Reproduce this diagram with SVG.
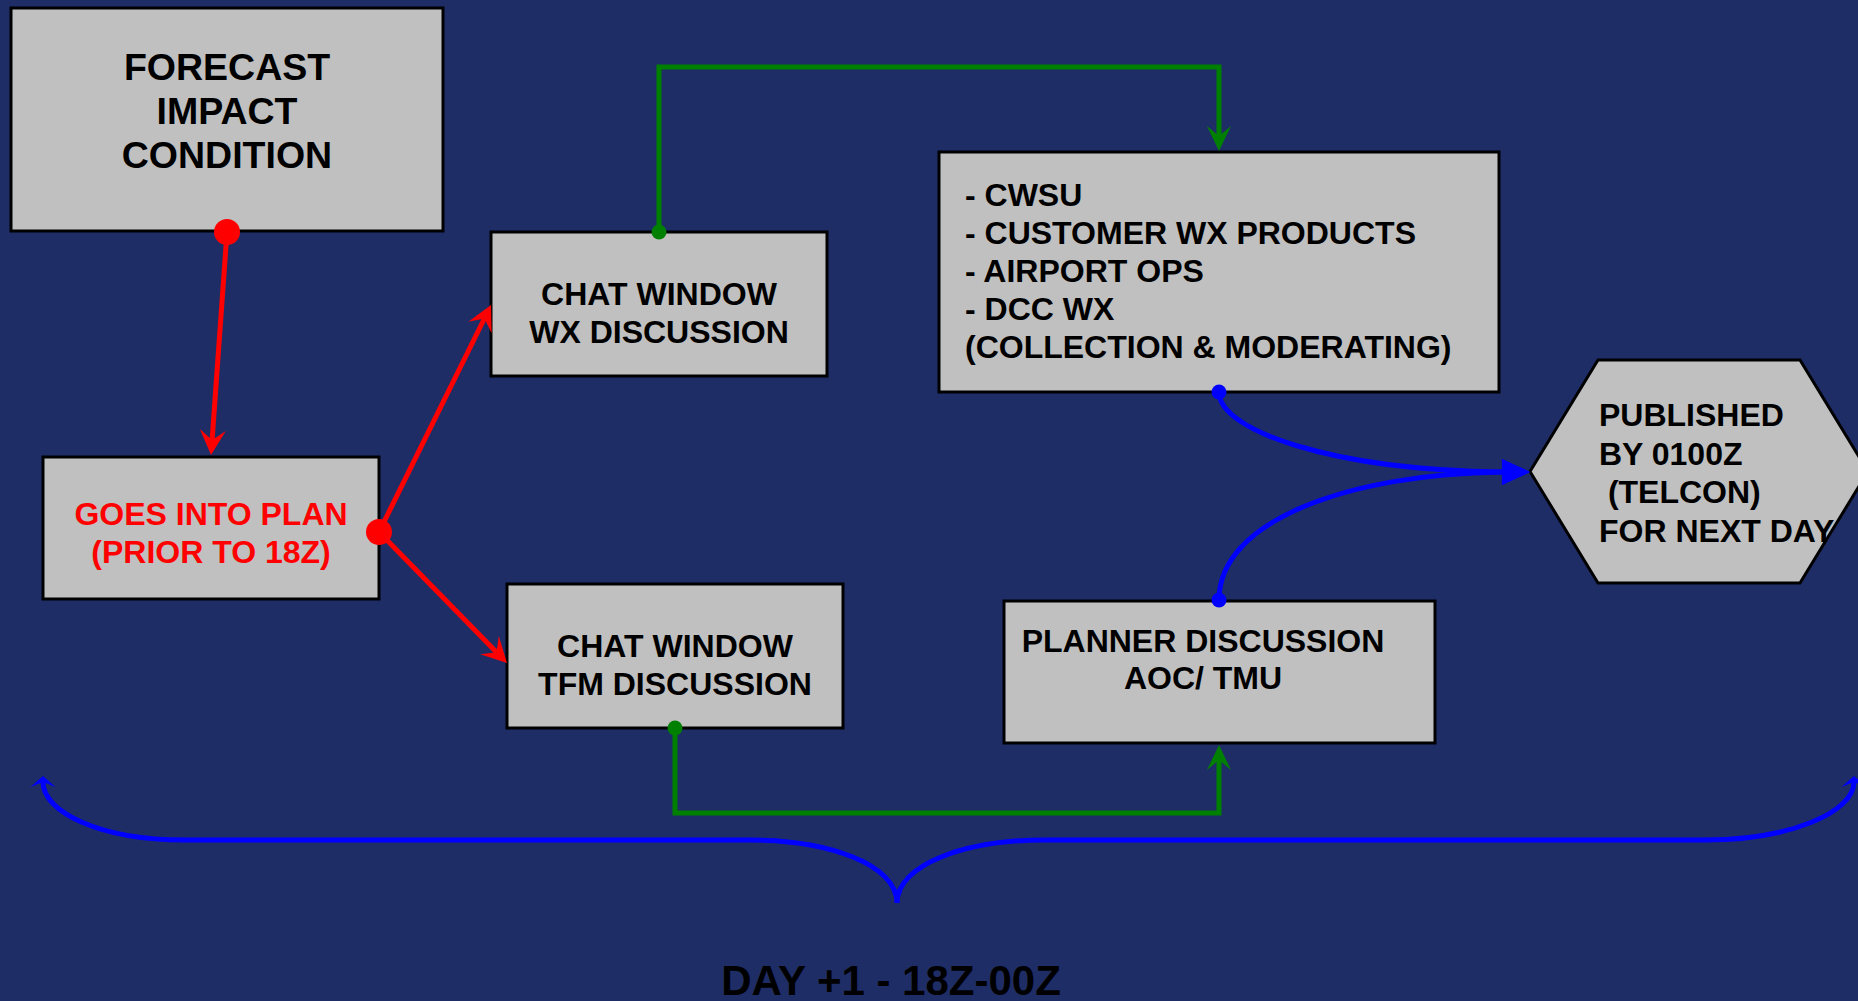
<svg xmlns="http://www.w3.org/2000/svg" width="1858" height="1001" viewBox="0 0 1858 1001">
<style>
.box{fill:#c0c0c0;stroke:#000;stroke-width:3}
.t{font-family:"Liberation Sans",Arial,sans-serif;font-weight:bold;font-size:32px;fill:#000}
.c{text-anchor:middle}
.red{stroke:#ff0000;stroke-width:5;fill:none}
.green{stroke:#008000;stroke-width:5;fill:none}
.blue{stroke:#0000ff;stroke-width:5;fill:none}
</style>
<defs>
<marker id="ar" markerUnits="userSpaceOnUse" markerWidth="30" markerHeight="30" viewBox="0 -15 30 30" refX="10" refY="0" orient="auto" overflow="visible">
<path d="M0,-13 L25,0 L0,13 L10,0 Z" fill="#ff0000"/>
</marker>
<marker id="ag" markerUnits="userSpaceOnUse" markerWidth="30" markerHeight="30" viewBox="0 -15 30 30" refX="10" refY="0" orient="auto" overflow="visible">
<path d="M0,-12 L25,0 L0,12 L10,0 Z" fill="#008000"/>
</marker>
<marker id="ab" markerUnits="userSpaceOnUse" markerWidth="30" markerHeight="30" viewBox="0 -15 30 30" refX="0" refY="0" orient="auto" overflow="visible">
<path d="M0,-13 L28,0 L0,13 Z" fill="#0000ff"/>
</marker>
<marker id="ab2" markerUnits="userSpaceOnUse" markerWidth="20" markerHeight="30" viewBox="0 -15 20 30" refX="5" refY="0" orient="auto" overflow="visible">
<path d="M0,-12.5 L11,0 L0,12.5 L5,0 Z" fill="#0000ff"/>
</marker>
</defs>
<rect x="0" y="0" width="1858" height="1001" fill="#1f2d66"/>

<g id="forecast">
<rect class="box" x="11" y="8" width="432" height="223"/>
<text class="t c" style="font-size:37.5px" x="227" y="80">FORECAST</text>
<text class="t c" style="font-size:37.5px" x="227" y="124">IMPACT</text>
<text class="t c" style="font-size:37.5px" x="227" y="168">CONDITION</text>
</g>

<g id="plan">
<rect class="box" x="43" y="457" width="336" height="142"/>
<text class="t c" x="211" y="525" style="fill:#ff0000">GOES INTO PLAN</text>
<text class="t c" x="211" y="563" style="fill:#ff0000">(PRIOR TO 18Z)</text>
</g>

<g id="chat-wx">
<rect class="box" x="491" y="232" width="336" height="144"/>
<text class="t c" x="659" y="305">CHAT WINDOW</text>
<text class="t c" x="659" y="343">WX DISCUSSION</text>
</g>

<g id="chat-tfm">
<rect class="box" x="507" y="584" width="336" height="144"/>
<text class="t c" x="675" y="657">CHAT WINDOW</text>
<text class="t c" x="675" y="695">TFM DISCUSSION</text>
</g>

<g id="sources">
<rect class="box" x="939" y="152" width="560" height="240"/>
<text class="t" x="965" y="206">- CWSU</text>
<text class="t" x="965" y="244">- CUSTOMER WX PRODUCTS</text>
<text class="t" x="965" y="282">- AIRPORT OPS</text>
<text class="t" x="965" y="320">- DCC WX</text>
<text class="t" x="965" y="358">(COLLECTION &amp; MODERATING)</text>
</g>

<g id="planner">
<rect class="box" x="1004" y="601" width="431" height="142"/>
<text class="t c" x="1203" y="652">PLANNER DISCUSSION</text>
<text class="t c" x="1203" y="689">AOC/ TMU</text>
</g>

<g id="published">
<polygon class="box" points="1530,471.5 1598,360 1800,360 1868,471.5 1800,583 1598,583"/>
<text class="t" x="1599" y="426">PUBLISHED</text>
<text class="t" x="1599" y="465">BY 0100Z</text>
<text class="t" x="1599" y="503" xml:space="preserve"> (TELCON)</text>
<text class="t" x="1599" y="542">FOR NEXT DAY</text>
</g>

<g id="connectors">
<path class="red" d="M227,232 L212.1,440" marker-end="url(#ar)"/>
<path class="red" d="M379,532 L484.4,318.5" marker-end="url(#ar)"/>
<path class="red" d="M379,532 L496.5,652.3" marker-end="url(#ar)"/>
<circle cx="227" cy="232" r="13" fill="#ff0000"/>
<circle cx="379" cy="532" r="13" fill="#ff0000"/>

<path class="green" d="M659,232 L659,67 L1219,67 L1219,136" marker-end="url(#ag)"/>
<path class="green" d="M675,728 L675,813 L1219,813 L1219,760" marker-end="url(#ag)"/>
<circle cx="659" cy="232" r="7.5" fill="#008000"/>
<circle cx="675" cy="728" r="7.5" fill="#008000"/>

<path class="blue" d="M1219,392 C1219,430 1330,470 1502,472" marker-end="url(#ab)"/>
<path class="blue" d="M1219,600 C1219,520 1350,474 1502,472" marker-end="url(#ab)"/>
<circle cx="1219" cy="392" r="7.5" fill="#0000ff"/>
<circle cx="1219" cy="600" r="7.5" fill="#0000ff"/>

<path class="blue" d="M184,840 L750,840 C830,840 897,865 897,903 C897,865 964,840 1044,840 L1706,840" stroke-linecap="round"/>
<path class="blue" d="M184,840 C100,840 43,812 43,782" marker-end="url(#ab2)"/>
<path class="blue" d="M1706,840 C1790,840 1854,812 1854,782" marker-end="url(#ab2)"/>
</g>

<text class="t c" style="font-size:42px" x="891" y="995">DAY +1 - 18Z-00Z</text>
</svg>
